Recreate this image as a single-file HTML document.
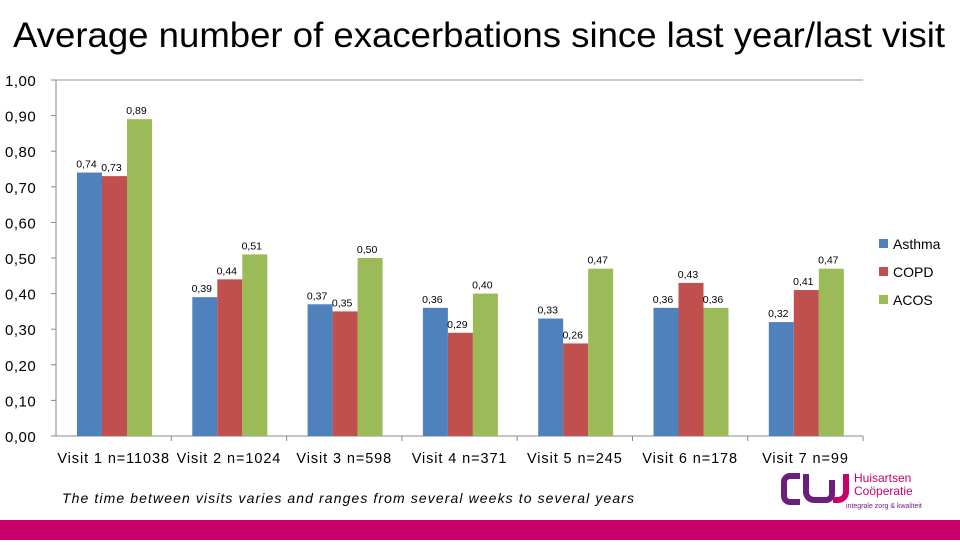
<!DOCTYPE html>
<html><head><meta charset="utf-8"><style>
body{margin:0;width:960px;height:540px;background:#fff;overflow:hidden;font-family:"Liberation Sans",sans-serif}
</style></head><body>
<svg width="960" height="540" xmlns="http://www.w3.org/2000/svg">
<text x="13" y="47" textLength="932" lengthAdjust="spacingAndGlyphs" font-size="35" fill="#000" font-family="Liberation Sans, sans-serif">Average number of exacerbations since last year/last visit</text>
<g id="axes"></g><g id="bars"></g><g id="labels"></g>
<g>
<rect x="879" y="239" width="9" height="9" fill="#4F81BD"/><text x="893" y="249" font-size="14">Asthma</text>
<rect x="879" y="267" width="9" height="9" fill="#C0504D"/><text x="893" y="277" font-size="14">COPD</text>
<rect x="879" y="295" width="9" height="9" fill="#9BBB59"/><text x="893" y="305" font-size="14">ACOS</text>
</g>
<text x="62" y="503" font-size="14" font-style="italic" textLength="572" lengthAdjust="spacing">The time between visits varies  and ranges from  several weeks to several years</text>
<g>
<path d="M800 476 h-10 a6 6 0 0 0 -6 6 v14 a6 6 0 0 0 6 6 h10" fill="none" stroke="#6B1F7C" stroke-width="6"/>
<path d="M806 474 v18 a8 8 0 0 0 8 8 h12 a6 6 0 0 0 6 -6 v-14" fill="none" stroke="#6B1F7C" stroke-width="6"/>
<path d="M846 474 v18 a8 8 0 0 1 -8 8 h-5" fill="none" stroke="#C8006A" stroke-width="6"/>
<text x="854" y="482" font-size="12" fill="#C8006A">Huisartsen</text>
<text x="854" y="495" font-size="12" fill="#C8006A">Coöperatie</text>
<text x="846" y="508" font-size="7" fill="#6B1F7C">integrale zorg &amp; kwaliteit</text>
</g>
<rect x="0" y="520" width="960" height="20" fill="#C8006A"/>
</svg>
<script>
const categories=["Visit 1 n=11038","Visit 2 n=1024","Visit 3 n=598","Visit 4 n=371","Visit 5 n=245","Visit 6 n=178","Visit 7 n=99"];
const asthma=[0.74,0.39,0.37,0.36,0.33,0.36,0.32];
const copd=[0.73,0.44,0.35,0.29,0.26,0.43,0.41];
const acos=[0.89,0.51,0.50,0.40,0.47,0.36,0.47];
const ticks=["0,00","0,10","0,20","0,30","0,40","0,50","0,60","0,70","0,80","0,90","1,00"];
const NS="http://www.w3.org/2000/svg";
const x0=56,gw=115.3,bw=25;
const y=v=>436-v*356;
function mk(t,a,p){const e=document.createElementNS(NS,t);for(const k in a)e.setAttribute(k,a[k]);document.getElementById(p).appendChild(e);return e;}
const ax=mk('line',{x1:x0,y1:80,x2:x0,y2:436,stroke:'#888'},'axes');


const xa=mk('line',{x1:x0,y1:436,x2:x0+gw*7,y2:436,stroke:'#888'},'axes');


mk('line',{x1:x0,y1:80,x2:x0+gw*7,y2:80,stroke:'#999'},'axes');
ticks.forEach((t,i)=>{const v=i/10;
 mk('line',{x1:x0-5,y1:y(v),x2:x0,y2:y(v),stroke:'#888'},'axes');
 const tx=mk('text',{x:5,y:y(v)+6,'font-size':15,'letter-spacing':0.5},'axes');tx.textContent=t;
 
 });
categories.forEach((c,i)=>{
 mk('line',{x1:x0+gw*(i+1),y1:436,x2:x0+gw*(i+1),y2:441,stroke:'#888'},'axes');
 const tx=mk('text',{x:x0+gw*i+gw/2,y:463,'font-size':14.5,'letter-spacing':0.9,'text-anchor':'middle'},'axes');tx.textContent=c;
 
 });
const series=[[asthma,'#4F81BD','asthma'],[copd,'#C0504D','copd'],[acos,'#9BBB59','acos']];
series.forEach(([vals,col,nm],s)=>{vals.forEach((v,i)=>{
 const bx=x0+gw*i+21+s*bw;
 const r=mk('rect',{x:bx,y:y(v),width:bw,height:436-y(v),fill:col},'bars');
 
 
 const t=mk('text',{x:bx+bw/2-3,y:y(v)-5,'font-size':10.5,'text-anchor':'middle'},'labels');
 t.textContent=v.toFixed(2).replace('.',',');
 
 
});});
</script>
</body></html>
